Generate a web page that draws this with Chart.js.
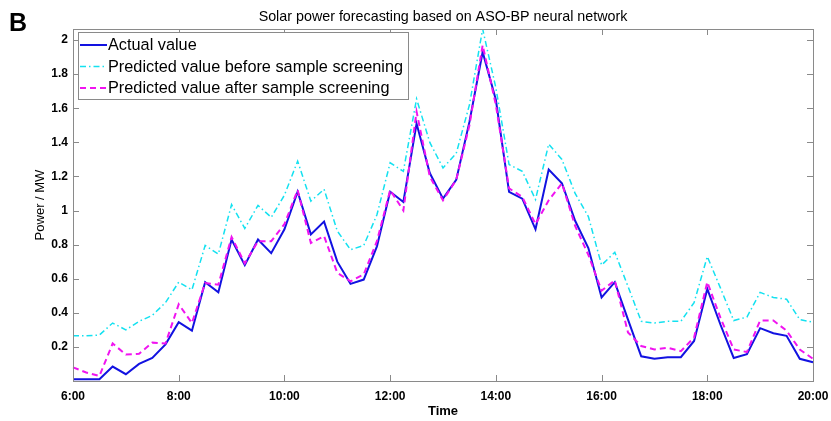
<!DOCTYPE html>
<html>
<head>
<meta charset="utf-8">
<script src="https://cdn.jsdelivr.net/npm/chart.js@4.4.0/dist/chart.umd.min.js"></script>
<style>
  html, body { margin: 0; padding: 0; background: #fff; }
  #wrap { width: 831px; height: 421px; position: relative; }
</style>
</head>
<body>
<div id="wrap"><canvas id="solarChart" width="831" height="421"></canvas></div>
<script>
// 15-minute samples, 6:00 - 20:00
const times = [
  '6:00','6:15','6:30','6:45','7:00','7:15','7:30','7:45',
  '8:00','8:15','8:30','8:45','9:00','9:15','9:30','9:45',
  '10:00','10:15','10:30','10:45','11:00','11:15','11:30','11:45',
  '12:00','12:15','12:30','12:45','13:00','13:15','13:30','13:45',
  '14:00','14:15','14:30','14:45','15:00','15:15','15:30','15:45',
  '16:00','16:15','16:30','16:45','17:00','17:15','17:30','17:45',
  '18:00','18:15','18:30','18:45','19:00','19:15','19:30','19:45',
  '20:00'
];

const actualValue = [
  0.01, 0.01, 0.01, 0.085, 0.04, 0.10, 0.135, 0.215,
  0.345, 0.295, 0.58, 0.52, 0.83, 0.68, 0.83, 0.75,
  0.89, 1.11, 0.86, 0.935, 0.70, 0.57, 0.595, 0.79,
  1.11, 1.05, 1.51, 1.22, 1.07, 1.18, 1.52, 1.93,
  1.65, 1.11, 1.07, 0.89, 1.24, 1.16, 0.94, 0.78,
  0.49, 0.58, 0.36, 0.145, 0.13, 0.14, 0.14, 0.235,
  0.54, 0.33, 0.135, 0.157, 0.31, 0.28, 0.265, 0.13,
  0.11
];

const beforeScreening = [
  0.265, 0.265, 0.27, 0.34, 0.30, 0.35, 0.385, 0.46,
  0.58, 0.535, 0.795, 0.745, 1.035, 0.895, 1.03, 0.96,
  1.09, 1.29, 1.055, 1.125, 0.88, 0.77, 0.795, 0.975,
  1.28, 1.23, 1.655, 1.40, 1.25, 1.335, 1.62, 2.065,
  1.72, 1.27, 1.23, 1.065, 1.39, 1.30, 1.10, 0.965,
  0.68, 0.755, 0.555, 0.35, 0.34, 0.35, 0.35, 0.46,
  0.73, 0.545, 0.355, 0.375, 0.52, 0.49, 0.48, 0.36,
  0.345
];

const afterScreening = [
  0.08, 0.05, 0.03, 0.22, 0.155, 0.16, 0.225, 0.22,
  0.45, 0.34, 0.575, 0.565, 0.845, 0.69, 0.82, 0.82,
  0.92, 1.12, 0.81, 0.85, 0.635, 0.585, 0.625, 0.82,
  1.12, 1.0, 1.58, 1.2, 1.06, 1.18, 1.5, 1.97,
  1.62, 1.13, 1.08, 0.92, 1.06, 1.16, 0.91, 0.74,
  0.53, 0.59, 0.285, 0.205, 0.185, 0.195, 0.175, 0.255,
  0.58, 0.37, 0.185, 0.17, 0.355, 0.355, 0.295, 0.185,
  0.13
];

const xTickLabels = ['6:00','8:00','10:00','12:00','14:00','16:00','18:00','20:00'];
const yTickValues = [0.2, 0.4, 0.6, 0.8, 1, 1.2, 1.4, 1.6, 1.8, 2];
const chartTitle = 'Solar power forecasting based on ASO-BP neural network';

const FONT = '"Liberation Sans", Arial, sans-serif';

// MATLAB-like box, inward ticks, title, legend and panel letter
const framePlugin = {
  id: 'framePlugin',
  afterDraw(chart) {
    const ctx = chart.ctx;
    const a = chart.chartArea;
    const xs = chart.scales.x, ys = chart.scales.y;
    ctx.save();
    ctx.strokeStyle = '#8a8a8a';
    ctx.lineWidth = 1;
    ctx.setLineDash([]);
    ctx.strokeRect(Math.round(a.left) + 0.5, Math.round(a.top) + 0.5,
                   Math.round(a.right - a.left), Math.round(a.bottom - a.top));
    const tl = 6;
    ctx.beginPath();
    xs.ticks.forEach(t => {
      const px = Math.round(xs.getPixelForValue(t.value)) + 0.5;
      ctx.moveTo(px, a.bottom); ctx.lineTo(px, a.bottom - tl);
      ctx.moveTo(px, a.top); ctx.lineTo(px, a.top + tl);
    });
    ys.ticks.forEach(t => {
      const py = Math.round(ys.getPixelForValue(t.value)) + 0.5;
      ctx.moveTo(a.left, py); ctx.lineTo(a.left + tl, py);
      ctx.moveTo(a.right, py); ctx.lineTo(a.right - tl, py);
    });
    ctx.stroke();

    // title over the plot box
    ctx.fillStyle = '#000';
    ctx.font = '14.3px ' + FONT;
    ctx.textAlign = 'center';
    ctx.textBaseline = 'middle';
    ctx.fillText(chartTitle, (a.left + a.right) / 2, 17);

    // legend
    const bx = 78, by = 32, bw = 330, bh = 67;
    ctx.fillStyle = '#fff';
    ctx.fillRect(bx, by, bw, bh);
    ctx.strokeStyle = '#8a8a8a';
    ctx.strokeRect(bx + 0.5, by + 0.5, bw, bh);
    ctx.font = '16.3px ' + FONT;
    ctx.textAlign = 'left';
    chart.data.datasets.forEach((ds, i) => {
      const y = 45 + i * 21.5;
      ctx.strokeStyle = ds.borderColor;
      ctx.lineWidth = ds.borderWidth;
      ctx.setLineDash(ds.borderDash || []);
      ctx.beginPath();
      ctx.moveTo(80, y); ctx.lineTo(107, y);
      ctx.stroke();
      ctx.fillStyle = '#000';
      ctx.fillText(ds.label, 108, y + 1);
    });

    // panel letter
    ctx.setLineDash([]);
    ctx.fillStyle = '#000';
    ctx.font = 'bold 25px ' + FONT;
    ctx.textBaseline = 'alphabetic';
    ctx.fillText('B', 9, 31);
    ctx.restore();
  }
};

const ctx = document.getElementById('solarChart').getContext('2d');
const solarChart = new Chart(ctx, {
  type: 'line',
  data: {
    labels: times,
    datasets: [
      { label: 'Actual value', data: actualValue, borderColor: 'rgb(18,18,225)',
        borderWidth: 2, order: 3 },
      { label: 'Predicted value before sample screening', data: beforeScreening,
        borderColor: 'rgb(20,225,240)', borderWidth: 1.5, borderDash: [6, 3, 1.5, 3], order: 2 },
      { label: 'Predicted value after sample screening', data: afterScreening,
        borderColor: 'rgb(240,20,240)', borderWidth: 2, borderDash: [6, 4], order: 1 }
    ]
  },
  options: {
    responsive: false,
    animation: false,
    layout: { padding: { left: 0, right: 18, top: 29, bottom: 0 } },
    elements: { point: { radius: 0 }, line: { tension: 0, fill: false } },
    plugins: {
      legend: { display: false },
      tooltip: { enabled: false },
      title: { display: false }
    },
    scales: {
      x: {
        type: 'category',
        offset: false,
        afterBuildTicks: s => { s.ticks = xTickLabels.map(l => ({ value: times.indexOf(l) })); },
        afterFit: s => { s.height = 40; s.paddingLeft = 0; s.paddingRight = 0; },
        grid: { display: false, drawTicks: false },
        border: { display: false },
        ticks: { autoSkip: false, maxRotation: 0, minRotation: 0, padding: 8, color: '#000',
                 font: { family: FONT, size: 12, weight: 'bold' } },
        title: { display: true, text: 'Time', color: '#000', padding: { top: 0, bottom: 2.2 },
                 font: { family: FONT, size: 13, weight: 'bold' } }
      },
      y: {
        min: 0,
        max: 2.065,
        afterBuildTicks: s => { s.ticks = yTickValues.map(v => ({ value: v })); },
        afterFit: s => { s.width = 73; s.paddingTop = 0; s.paddingBottom = 0; },
        grid: { display: false, drawTicks: false },
        border: { display: false },
        ticks: { padding: 5, color: '#000', callback: v => String(Math.round(v * 10) / 10),
                 font: { family: FONT, size: 12, weight: 'bold' } },
        title: { display: true, text: 'Power / MW', color: '#000', padding: { top: 33, bottom: 0 },
                 font: { family: FONT, size: 13, weight: 'normal' } }
      }
    }
  },
  plugins: [framePlugin]
});
</script>
</body>
</html>
